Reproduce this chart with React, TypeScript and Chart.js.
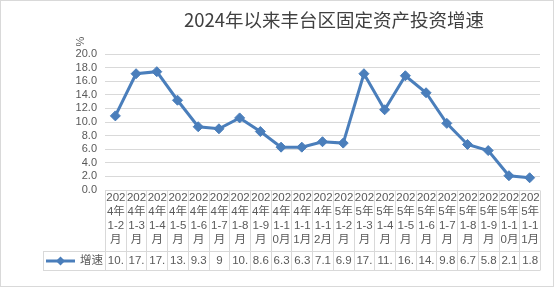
import React, { useEffect, useRef } from "react";
import { Chart, registerables } from "chart.js";

Chart.register(...registerables);

const TITLE = "2024年以来丰台区固定资产投资增速";
const Y_UNIT = "%";
const SERIES_NAME = "增速";

const categories = [
  "2024年1-2月", "2024年1-3月", "2024年1-4月", "2024年1-5月", "2024年1-6月",
  "2024年1-7月", "2024年1-8月", "2024年1-9月", "2024年1-10月", "2024年1-11月",
  "2024年1-12月", "2025年1-2月", "2025年1-3月", "2025年1-4月", "2025年1-5月",
  "2025年1-6月", "2025年1-7月", "2025年1-8月", "2025年1-9月", "2025年1-10月",
  "2025年1-11月",
];

const growth = [
  10.9, 17.1, 17.4, 13.2, 9.3, 9, 10.6, 8.6, 6.3, 6.3,
  7.1, 6.9, 17.1, 11.8, 16.8, 14.3, 9.8, 6.7, 5.8, 2.1, 1.8,
];

const Y_MIN = 0;
const Y_MAX = 20;
const Y_STEP = 2;

const LINE_COLOR = "#4A7EBB";
const GRID_COLOR = "#D9D9D9";
const TEXT_COLOR = "#595959";
const TABLE_FONT = "11.5px 'Liberation Sans', 'Noto Sans CJK SC', sans-serif";

function wrapText(ctx: CanvasRenderingContext2D, text: string, maxW: number): string[] {
  const lines: string[] = [];
  let cur = "";
  for (const ch of Array.from(text)) {
    const test = cur + ch;
    if (cur && ctx.measureText(test).width > maxW) {
      lines.push(cur);
      cur = ch;
    } else {
      cur = test;
    }
  }
  if (cur) lines.push(cur);
  return lines;
}

const px = (v: number) => Math.round(v) + 0.5;

const decorPlugin = {
  id: "excelDecor",
  beforeDraw(chart: any) {
    const ctx = chart.ctx as CanvasRenderingContext2D;
    ctx.save();
    ctx.fillStyle = "#ffffff";
    ctx.fillRect(0, 0, chart.width, chart.height);
    ctx.restore();
  },
  afterDraw(chart: any) {
    const ctx = chart.ctx as CanvasRenderingContext2D;
    const { left, right, bottom } = chart.chartArea;
    const xs = chart.scales.x;
    const n = categories.length;
    const colW = (right - left) / n;
    const labelTop = bottom;
    const rowTop = bottom + 61;
    const rowBottom = bottom + 80;
    const legendLeft = 43;

    ctx.save();
    // outer border
    ctx.strokeStyle = GRID_COLOR;
    ctx.lineWidth = 1;
    ctx.strokeRect(0.5, 0.5, 553, 286);

    // title
    ctx.fillStyle = "#404040";
    ctx.font = "18.5px 'Noto Sans CJK SC', sans-serif";
    ctx.textAlign = "center";
    ctx.textBaseline = "middle";
    ctx.fillText(TITLE, 334, 20);

    // y unit (rotated)
    ctx.save();
    ctx.translate(81, 41.5);
    ctx.rotate(-Math.PI / 2);
    ctx.font = "11px 'Liberation Sans', sans-serif";
    ctx.fillStyle = TEXT_COLOR;
    ctx.fillText(Y_UNIT, 0, 0);
    ctx.restore();

    // table grid
    ctx.strokeStyle = GRID_COLOR;
    ctx.lineWidth = 1;
    ctx.beginPath();
    ctx.moveTo(left, px(labelTop));
    ctx.lineTo(right, px(labelTop));
    ctx.moveTo(legendLeft, px(rowTop));
    ctx.lineTo(right, px(rowTop));
    ctx.moveTo(legendLeft, px(rowBottom));
    ctx.lineTo(right, px(rowBottom));
    ctx.moveTo(px(legendLeft), px(rowTop));
    ctx.lineTo(px(legendLeft), px(rowBottom));
    for (let i = 0; i <= n; i++) {
      const xb = i < n ? xs.getPixelForValue(i) - colW / 2 : xs.getPixelForValue(n - 1) + colW / 2;
      ctx.moveTo(px(xb), px(labelTop));
      ctx.lineTo(px(xb), px(rowBottom));
    }
    ctx.stroke();

    // category labels and values
    ctx.font = TABLE_FONT;
    ctx.fillStyle = TEXT_COLOR;
    ctx.textAlign = "center";
    ctx.textBaseline = "middle";
    const maxW = colW - 0.8;
    for (let i = 0; i < n; i++) {
      const cx = xs.getPixelForValue(i);
      const lines = wrapText(ctx, categories[i], maxW);
      lines.forEach((ln, j) => {
        ctx.fillText(ln, cx + 0.5, labelTop + 7.5 + j * 14.1);
      });
      const vLines = wrapText(ctx, String(growth[i]), maxW);
      ctx.fillText(vLines[0], cx + 0.5, (rowTop + rowBottom) / 2 + 0.5);
    }

    // legend key
    const ly = (rowTop + rowBottom) / 2 + 0.5;
    ctx.strokeStyle = LINE_COLOR;
    ctx.lineWidth = 3;
    ctx.beginPath();
    ctx.moveTo(46, ly);
    ctx.lineTo(75, ly);
    ctx.stroke();
    ctx.fillStyle = LINE_COLOR;
    ctx.beginPath();
    ctx.moveTo(60.5, ly - 4.5);
    ctx.lineTo(65, ly);
    ctx.lineTo(60.5, ly + 4.5);
    ctx.lineTo(56, ly);
    ctx.closePath();
    ctx.fill();
    ctx.fillStyle = TEXT_COLOR;
    ctx.textAlign = "left";
    ctx.fillText(SERIES_NAME, 80, ly);

    ctx.restore();
  },
};

export default function App() {
  const ref = useRef<HTMLCanvasElement | null>(null);

  useEffect(() => {
    if (!ref.current) return;
    const chart = new Chart(ref.current, {
      type: "line",
      data: {
        labels: categories,
        datasets: [
          {
            label: SERIES_NAME,
            data: growth,
            borderColor: LINE_COLOR,
            backgroundColor: LINE_COLOR,
            borderWidth: 3,
            pointStyle: "rectRot",
            pointRadius: 5,
            pointBorderWidth: 1,
            pointBackgroundColor: LINE_COLOR,
            pointBorderColor: LINE_COLOR,
            tension: 0,
          },
        ],
      },
      options: {
        responsive: false,
        animation: false,
        devicePixelRatio: 1,
        layout: { padding: { left: 0, right: 16, top: 54, bottom: 98 } },
        plugins: {
          legend: { display: false },
          title: { display: false },
          tooltip: { enabled: false },
        },
        scales: {
          x: {
            type: "category",
            display: false,
            offset: true,
          },
          y: {
            min: Y_MIN,
            max: Y_MAX,
            afterFit: (scale: any) => {
              scale.width = 105;
            },
            border: { display: false },
            grid: { color: GRID_COLOR, lineWidth: 1, drawTicks: false },
            ticks: {
              stepSize: Y_STEP,
              autoSkip: false,
              padding: 8,
              color: TEXT_COLOR,
              font: { family: "'Liberation Sans', sans-serif", size: 11 },
              callback: (v: any) => Number(v).toFixed(1),
            },
          },
        },
      },
      plugins: [decorPlugin],
    });
    return () => chart.destroy();
  }, []);

  return (
    <div style={{ position: "absolute", left: 0, top: 0, width: 556, height: 288 }}>
      <canvas ref={ref} width={556} height={288} style={{ display: "block" }} />
    </div>
  );
}
